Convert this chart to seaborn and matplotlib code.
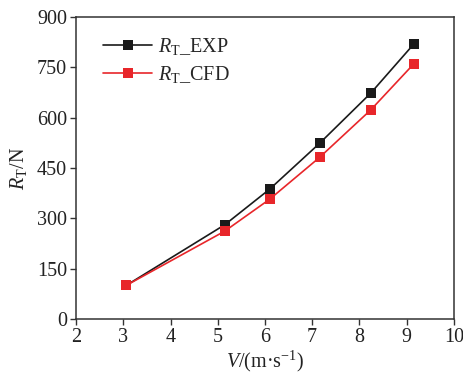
import matplotlib
matplotlib.use("Agg")
import matplotlib.pyplot as plt
import seaborn as sns
import pandas as pd

speed = [3.06, 5.15, 6.10, 7.16, 8.24, 9.15]
rt_exp = [100, 281, 387, 524, 673, 819]
rt_cfd = [100, 262, 357, 482, 623, 760]
series_names = ["$R_{\\mathrm{T}}$_EXP", "$R_{\\mathrm{T}}$_CFD"]
x_ticks = [2, 3, 4, 5, 6, 7, 8, 9, 10]
y_ticks = [0, 150, 300, 450, 600, 750, 900]

sns.set_theme(style="ticks")
plt.rcParams["font.family"] = ["Liberation Serif", "DejaVu Serif"]
plt.rcParams["mathtext.fontset"] = "custom"
plt.rcParams["mathtext.rm"] = "Liberation Serif"
plt.rcParams["mathtext.it"] = "Liberation Serif:italic"

df = pd.DataFrame({
    "V": speed * 2,
    "R": rt_exp + rt_cfd,
    "series": [series_names[0]] * len(speed) + [series_names[1]] * len(speed),
})

fig = plt.figure(figsize=(4.64, 3.74), dpi=100)
ax = fig.add_axes([0.164, 0.147, 0.814, 0.8075])
sns.lineplot(data=df, x="V", y="R", hue="series", palette=["#1a1a1a", "#e8262a"],
             marker="s", markersize=6.5, markeredgewidth=0, linewidth=1.2, ax=ax)

ax.set_xlim(2, 10)
ax.set_ylim(0, 900)
ax.set_xticks(x_ticks)
ax.set_yticks(y_ticks)
ax.tick_params(axis="both", labelsize=14.5, direction="out", length=4, width=1,
               pad=2.5, colors="#333333", labelcolor="#222222")
for s in ax.spines.values():
    s.set_linewidth(1.1)
    s.set_color("#333333")
ax.set_xlabel("$V$/(m·s$^{-1}$)", fontsize=14.5, labelpad=1, color="#222222")
ax.set_ylabel("$R_{\\mathrm{T}}$/N", fontsize=14.5, labelpad=6, color="#222222")
leg = ax.legend(loc="upper left", frameon=False, fontsize=14.5, handlelength=2.4,
                handletextpad=0.3, bbox_to_anchor=(0.035, 0.985), labelspacing=0.35,
                borderaxespad=0.3)
fig.savefig("out.png", dpi=100)
